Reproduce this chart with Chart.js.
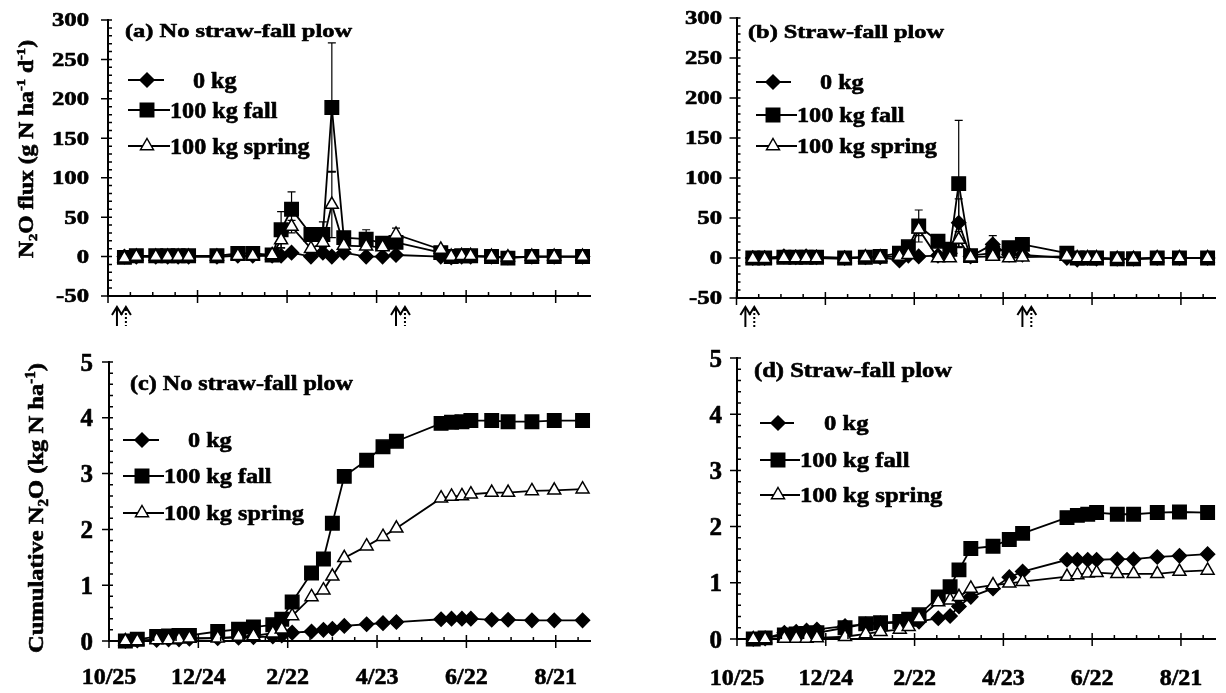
<!DOCTYPE html>
<html>
<head>
<meta charset="utf-8">
<script src="https://cdn.jsdelivr.net/npm/chart.js@4.4.1/dist/chart.umd.min.js"></script>
<style>
  html, body { margin: 0; padding: 0; background: #fff; }
  #wrap { position: relative; width: 1226px; height: 693px; overflow: hidden; }
  canvas { position: absolute; }
</style>
</head>
<body>
<div id="wrap">
  <canvas id="pa" width="613" height="346" style="left:0;top:0"></canvas>
  <canvas id="pb" width="613" height="346" style="left:613px;top:0"></canvas>
  <canvas id="pc" width="613" height="347" style="left:0;top:346px"></canvas>
  <canvas id="pd" width="613" height="347" style="left:613px;top:346px"></canvas>
</div>
<script>
// sampling dates, as days after 10/25
const sampleDays = [11, 19, 32, 40, 47, 54, 73, 87, 97, 110, 116, 123, 136, 144, 150, 158, 173, 184, 193, 223, 230, 237, 243, 257, 268, 284, 299, 318];
const dateTickDays = [0, 60, 120, 180, 240, 300];
const dateTickLabels = ['10/25', '12/24', '2/22', '4/23', '6/22', '8/21'];
const fluxTicks = [-50, 0, 50, 100, 150, 200, 250, 300];
const cumTicks = [0, 1, 2, 3, 4, 5];
const seriesNames = ['0 kg', '100 kg fall', '100 kg spring'];
// arrows under the flux panels (days after 10/25)
const solidArrowDays = [6, 193];
const dottedArrowDays = [12, 199];

// (a) N2O flux, no straw-fall plow
const fluxA0     = [0, 0, 0, 0, 0, 0, 0, 1, 1, 1, 1, 5, 0, 5, 0, 5, 0, 0, 2, 0, -1, 0, 0, 0, -1, 0, 0, 0];
const fluxAFall  = [-1, 1, 1, 1, 1, 1, 1, 4, 4, 2, 34, 60, 28, 28, 189, 24, 22, 17, 18, 5, 0, 1, 1, 0, -2, 0, 0, 0];
const fluxASpr   = [-2, 0, 0, 0, 0, 0, 0, 1, 1, 2, 21, 38, 10, 18, 66, 14, 13, 12, 28, 9, 0, 1, 1, 0, -1, 0, 0, 0];
const errAFall   = [0, 0, 0, 0, 0, 0, 0, 0, 0, 0, 23, 22, 0, 16, 82, 4, 12, 0, 0, 0, 0, 0, 0, 0, 0, 0, 0, 0];
const errASpr    = [0, 0, 0, 0, 0, 0, 0, 0, 0, 0, 10, 8, 0, 6, 42, 0, 0, 0, 8, 0, 0, 0, 0, 0, 0, 0, 0, 0];

// (b) N2O flux, straw-fall plow
const fluxB0     = [0, 0, 2, 1, 2, 1, 0, 1, 1, -3, 3, 2, 3, 6, 44, 2, 17, 4, 4, 0, -2, 0, -1, -1, -1, 0, 0, 0];
const fluxBFall  = [0, 0, 1, 1, 1, 1, 0, 1, 2, 6, 14, 40, 21, 11, 93, 3, 6, 13, 17, 6, 0, 0, 0, -1, -1, 0, 0, 0];
const fluxBSpr   = [-1, -1, 0, 0, 0, 0, -1, 1, 1, 2, 4, 36, 0, 0, 23, 1, 2, 0, 1, 2, 0, 0, 0, -1, -1, 0, 0, 0];
const errB0      = [0, 0, 0, 0, 0, 0, 0, 0, 0, 0, 0, 0, 0, 0, 30, 0, 11, 0, 0, 0, 0, 0, 0, 0, 0, 0, 0, 0];
const errBFall   = [0, 0, 0, 0, 0, 0, 0, 0, 0, 0, 0, 20, 0, 5, 79, 0, 0, 0, 0, 0, 0, 0, 0, 0, 0, 0, 0, 0];
const errBSpr    = [0, 0, 0, 0, 0, 0, 0, 0, 0, 0, 0, 8, 0, 0, 10, 0, 0, 0, 0, 0, 0, 0, 0, 0, 0, 0, 0, 0];

// (c) cumulative N2O, no straw-fall plow
const cumC0      = [0, 0.01, 0.02, 0.03, 0.03, 0.04, 0.05, 0.06, 0.07, 0.08, 0.1, 0.15, 0.17, 0.2, 0.22, 0.27, 0.3, 0.32, 0.34, 0.39, 0.4, 0.4, 0.4, 0.38, 0.38, 0.37, 0.37, 0.37];
const cumCFall   = [0, 0.03, 0.08, 0.09, 0.1, 0.1, 0.17, 0.21, 0.25, 0.29, 0.39, 0.7, 1.22, 1.47, 2.11, 2.95, 3.24, 3.48, 3.58, 3.9, 3.92, 3.93, 3.95, 3.95, 3.93, 3.93, 3.95, 3.95];
const cumCSpr    = [0, 0, 0.02, 0.02, 0.03, 0.05, 0.05, 0.08, 0.09, 0.14, 0.21, 0.45, 0.79, 0.91, 1.16, 1.49, 1.7, 1.87, 2.02, 2.56, 2.59, 2.6, 2.63, 2.66, 2.66, 2.69, 2.7, 2.72];

// (d) cumulative N2O, straw-fall plow
const cumD0      = [0, 0.01, 0.11, 0.13, 0.15, 0.17, 0.23, 0.26, 0.28, 0.29, 0.31, 0.31, 0.37, 0.41, 0.58, 0.75, 0.9, 1.1, 1.2, 1.41, 1.41, 1.41, 1.41, 1.42, 1.42, 1.46, 1.48, 1.51];
const cumDFall   = [0, 0.02, 0.07, 0.09, 0.1, 0.11, 0.2, 0.27, 0.29, 0.31, 0.35, 0.43, 0.75, 0.93, 1.23, 1.61, 1.65, 1.77, 1.88, 2.16, 2.2, 2.22, 2.25, 2.22, 2.22, 2.25, 2.26, 2.25];
const cumDSpr    = [0, 0, 0.01, 0.01, 0.01, 0.02, 0.04, 0.09, 0.13, 0.17, 0.22, 0.37, 0.66, 0.69, 0.75, 0.9, 0.96, 0.99, 1.02, 1.11, 1.14, 1.17, 1.18, 1.16, 1.16, 1.16, 1.2, 1.22];

const FONT = '"Liberation Serif", serif';
const X_MAX = 323;

const fluxTitle = [['N', ''], ['2', 'sub'], ['O flux (g N ha', ''], ['-1', 'sup'], [' d', ''], ['-1', 'sup'], [')', '']];
const cumTitle = [['Cumulative N', ''], ['2', 'sub'], ['O (kg N ha', ''], ['-1', 'sup'], [')', '']];

// layout of each panel, in page pixels
const panels = [
    { id: 'pa', ox: 0, oy: 0, w: 613, h: 346, area: [108, 20, 590, 296],
      yMin: -50, yMax: 300, yMinor: 10, yTicks: fluxTicks,
      series: [fluxA0, fluxAFall, fluxASpr], errs: [null, errAFall, errASpr],
      title: { text: '(a) No straw-fall plow', x: 125, y: 37, width: 227, size: 19 },
      ytitle: { parts: fluxTitle, x: 33, y: 149, width: 218, size: 20 },
      tick: { size: 19, sx: 1.3, right: 89 },
      legend: { x0: 128, x1: 168, mx: 147, tx: 170, tx0: 193, rows: [80, 110, 146], size: 23, sx: 1.05 },
      arrows: { top: 307, bottom: 326 } },
    { id: 'pb', ox: 613, oy: 0, w: 613, h: 346, area: [736.5, 18, 1224, 298],
      yMin: -50, yMax: 300, yMinor: 10, yTicks: fluxTicks,
      series: [fluxB0, fluxBFall, fluxBSpr], errs: [errB0, errBFall, errBSpr],
      title: { text: '(b) Straw-fall plow', x: 748, y: 38, width: 196, size: 19 },
      tick: { size: 19, sx: 1.3, right: 722 },
      legend: { x0: 756, x1: 795, mx: 773, tx: 797, tx0: 820, rows: [82, 115, 146], size: 22, sx: 1.1 },
      arrows: { top: 307, bottom: 327 } },
    { id: 'pc', ox: 0, oy: 346, w: 613, h: 347, area: [109, 362, 590, 641],
      yMin: 0, yMax: 5, yMinor: 0.2, yTicks: cumTicks,
      series: [cumC0, cumCFall, cumCSpr], errs: [null, null, null],
      title: { text: '(c) No straw-fall plow', x: 130, y: 390, width: 223, size: 21 },
      ytitle: { parts: cumTitle, x: 43, y: 508, width: 290, size: 22 },
      tick: { size: 25, sx: 1, right: 93 },
      xlabels: { y: 684, size: 24 },
      legend: { x0: 123, x1: 163, mx: 142, tx: 164, tx0: 188, rows: [440, 476, 513], size: 22, sx: 1.1 } },
    { id: 'pd', ox: 613, oy: 346, w: 613, h: 347, area: [737, 358, 1224, 639],
      yMin: 0, yMax: 5, yMinor: 0.2, yTicks: cumTicks,
      series: [cumD0, cumDFall, cumDSpr], errs: [null, null, null],
      title: { text: '(d) Straw-fall plow', x: 754, y: 377, width: 198, size: 21 },
      tick: { size: 25, sx: 1, right: 722 },
      xlabels: { y: 685, size: 24 },
      legend: { x0: 760, x1: 798, mx: 778, tx: 800, tx0: 824, rows: [423, 460, 495], size: 22, sx: 1.12 } }
];

const markerStyles = [
    { pointStyle: 'rectRot', radius: 7, fill: '#000', order: 2 },
    { pointStyle: 'rect', radius: 9.5, fill: '#000', order: 1 },
    { pointStyle: 'triangle', radius: 7.5, fill: '#fff', order: 0 }
];

function partFont(size, kind) {
    const s = kind ? size * 0.62 : size;
    return 'bold ' + s.toFixed(1) + 'px ' + FONT;
}

// draws text (with sub/superscripts) stretched along its baseline, heavy like the scanned original
function drawRich(ctx, parts, x, y, o) {
    if (typeof parts === 'string') parts = [[parts, '']];
    let nat = 0;
    parts.forEach(([t, k]) => { ctx.font = partFont(o.size, k); nat += ctx.measureText(t).width; });
    const sx = o.width ? o.width / nat : (o.sx || 1);
    ctx.save();
    ctx.translate(x, y);
    if (o.rotate) ctx.rotate(-Math.PI / 2);
    ctx.scale(sx, 1);
    let cx = o.align === 'center' ? -nat / 2 : o.align === 'right' ? -nat : 0;
    ctx.fillStyle = '#000';
    ctx.strokeStyle = '#000';
    ctx.lineWidth = 0.6;
    ctx.lineJoin = 'round';
    ctx.textBaseline = 'alphabetic';
    ctx.textAlign = 'left';
    parts.forEach(([t, k]) => {
        ctx.font = partFont(o.size, k);
        const dy = k === 'sub' ? o.size * 0.22 : k === 'sup' ? -o.size * 0.38 : 0;
        ctx.fillText(t, cx, dy);
        ctx.strokeText(t, cx, dy);
        cx += ctx.measureText(t).width;
    });
    ctx.restore();
}

function drawMarker(ctx, style, x, y) {
    const r = style.radius;
    ctx.beginPath();
    if (style.pointStyle === 'rectRot') {
        ctx.moveTo(x - r, y); ctx.lineTo(x, y - r); ctx.lineTo(x + r, y); ctx.lineTo(x, y + r);
    } else if (style.pointStyle === 'rect') {
        const s = r * Math.SQRT1_2;
        ctx.rect(x - s, y - s, 2 * s, 2 * s);
    } else {
        ctx.moveTo(x, y - r); ctx.lineTo(x + 0.866 * r, y + 0.5 * r); ctx.lineTo(x - 0.866 * r, y + 0.5 * r);
    }
    ctx.closePath();
    ctx.fillStyle = style.fill;
    ctx.fill();
    ctx.lineWidth = 1.5;
    ctx.strokeStyle = '#000';
    ctx.stroke();
}

function drawArrow(ctx, x, yTop, yBot, dotted) {
    ctx.save();
    ctx.strokeStyle = '#000';
    ctx.lineWidth = 2;
    if (dotted) ctx.setLineDash([2, 2]);
    ctx.beginPath(); ctx.moveTo(x, yTop + 2); ctx.lineTo(x, yBot); ctx.stroke();
    ctx.setLineDash([]);
    ctx.beginPath(); ctx.moveTo(x - 5, yTop + 8); ctx.lineTo(x, yTop); ctx.lineTo(x + 5, yTop + 8); ctx.stroke();
    ctx.restore();
}

function makePlugin(p) {
    const L = (x, y) => [x - p.ox, y - p.oy];
    return {
        id: 'figure_' + p.id,
        beforeDatasetsDraw(chart) {
            const ctx = chart.ctx, xs = chart.scales.x, ys = chart.scales.y;
            ctx.save();
            ctx.strokeStyle = '#000';
            ctx.lineWidth = 1.2;
            p.errs.forEach((errs, si) => {
                if (!errs) return;
                errs.forEach((e, i) => {
                    if (!e) return;
                    const v = p.series[si][i];
                    const x = xs.getPixelForValue(sampleDays[i]);
                    const y1 = ys.getPixelForValue(v + e), y2 = ys.getPixelForValue(v - e);
                    ctx.beginPath();
                    ctx.moveTo(x, y1); ctx.lineTo(x, y2);
                    ctx.moveTo(x - 4, y1); ctx.lineTo(x + 4, y1);
                    ctx.moveTo(x - 4, y2); ctx.lineTo(x + 4, y2);
                    ctx.stroke();
                });
            });
            ctx.restore();
        },
        afterDraw(chart) {
            const ctx = chart.ctx, xs = chart.scales.x, ys = chart.scales.y, a = chart.chartArea;
            // tick marks
            ctx.save();
            ctx.strokeStyle = '#000';
            ctx.lineWidth = 1.5;
            ctx.beginPath();
            const nMinor = Math.round((p.yMax - p.yMin) / p.yMinor);
            for (let k = 0; k <= nMinor; k++) {
                const y = ys.getPixelForValue(p.yMin + k * p.yMinor);
                ctx.moveTo(a.left, y); ctx.lineTo(a.left + 4, y);
            }
            p.yTicks.forEach(v => {
                const y = ys.getPixelForValue(v);
                ctx.moveTo(a.left - 7, y); ctx.lineTo(a.left + 3, y);
            });
            for (let d = 15; d <= X_MAX; d += 15) {
                const x = xs.getPixelForValue(d);
                ctx.moveTo(x, a.bottom); ctx.lineTo(x, a.bottom - 4);
            }
            dateTickDays.forEach(d => {
                const x = xs.getPixelForValue(d);
                ctx.moveTo(x, a.bottom - 6); ctx.lineTo(x, a.bottom + 7);
            });
            ctx.stroke();
            ctx.restore();

            // y tick labels
            const [rx] = L(p.tick.right, 0);
            p.yTicks.forEach(v => {
                const y = ys.getPixelForValue(v);
                drawRich(ctx, String(v), rx, y + p.tick.size * 0.34, { size: p.tick.size, sx: p.tick.sx, align: 'right' });
            });
            // x tick labels
            if (p.xlabels) {
                const [, by] = L(0, p.xlabels.y);
                dateTickDays.forEach((d, i) => {
                    drawRich(ctx, dateTickLabels[i], xs.getPixelForValue(d), by, { size: p.xlabels.size, align: 'center' });
                });
            }
            // panel title
            const [tx, ty] = L(p.title.x, p.title.y);
            drawRich(ctx, p.title.text, tx, ty, { size: p.title.size, width: p.title.width });
            // y title
            if (p.ytitle) {
                const [yx, yy] = L(p.ytitle.x, p.ytitle.y);
                drawRich(ctx, p.ytitle.parts, yx, yy, { size: p.ytitle.size, width: p.ytitle.width, align: 'center', rotate: true });
            }
            // legend
            const lg = p.legend;
            seriesNames.forEach((name, i) => {
                const [x0, ry] = L(lg.x0, lg.rows[i]);
                const [x1] = L(i === 0 ? lg.x1 - 4 : lg.tx, 0);
                const [mx] = L(lg.mx, 0);
                ctx.save();
                ctx.strokeStyle = '#000';
                ctx.lineWidth = 1.8;
                ctx.beginPath(); ctx.moveTo(x0, ry); ctx.lineTo(x1, ry); ctx.stroke();
                drawMarker(ctx, markerStyles[i], mx, ry);
                ctx.restore();
                const [lx] = L(i === 0 ? lg.tx0 : lg.tx, 0);
                drawRich(ctx, name, lx, ry + lg.size * 0.34, { size: lg.size, sx: lg.sx });
            });
            // application arrows
            if (p.arrows) {
                const [, at] = L(0, p.arrows.top);
                const [, ab] = L(0, p.arrows.bottom);
                solidArrowDays.forEach(d => drawArrow(ctx, xs.getPixelForValue(d), at, ab, false));
                dottedArrowDays.forEach(d => drawArrow(ctx, xs.getPixelForValue(d), at, ab, true));
            }
        }
    };
}

function buildCharts() {
    panels.forEach(p => {
        const datasets = p.series.map((vals, i) => {
            const m = markerStyles[i];
            return {
                label: seriesNames[i],
                data: sampleDays.map((d, j) => ({ x: d, y: vals[j] })),
                borderColor: '#000',
                borderWidth: 1.8,
                pointStyle: m.pointStyle,
                pointRadius: m.radius,
                pointBackgroundColor: m.fill,
                pointBorderColor: '#000',
                pointBorderWidth: 1.5,
                order: m.order,
                clip: false,
                tension: 0
            };
        });
        new Chart(document.getElementById(p.id), {
            type: 'line',
            data: { datasets },
            options: {
                responsive: false,
                animation: false,
                devicePixelRatio: 1,
                layout: {
                    padding: {
                        left: p.area[0] - p.ox,
                        top: p.area[1] - p.oy,
                        right: p.ox + p.w - p.area[2],
                        bottom: p.oy + p.h - p.area[3]
                    }
                },
                plugins: { legend: { display: false }, tooltip: { enabled: false } },
                scales: {
                    x: {
                        type: 'linear', min: 0, max: X_MAX,
                        grid: { display: false },
                        ticks: { display: false },
                        border: { display: true, color: '#000', width: 2 },
                        afterFit: s => { s.height = 0; }
                    },
                    y: {
                        min: p.yMin, max: p.yMax,
                        grid: { display: false },
                        ticks: { display: false },
                        border: { display: true, color: '#000', width: 2 },
                        afterFit: s => { s.width = 0; }
                    }
                }
            },
            plugins: [makePlugin(p)]
        });
    });
}

buildCharts();
</script>
</body>
</html>
